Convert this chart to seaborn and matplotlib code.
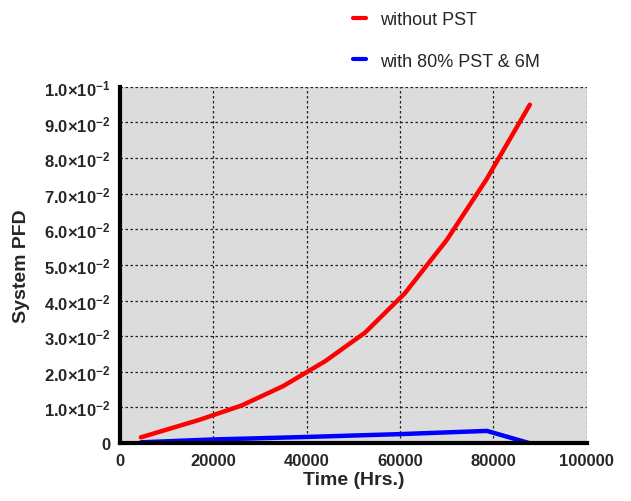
import matplotlib
matplotlib.use("Agg")
import matplotlib.pyplot as plt
import seaborn as sns
import pandas as pd
from matplotlib.ticker import FixedLocator, FixedFormatter

# Data
red_time = [4500, 17000, 26000, 35000, 44000, 52500, 61000, 70000, 78500, 87800]
red_pfd = [0.0016, 0.0065, 0.0105, 0.016, 0.023, 0.031, 0.042, 0.057, 0.074, 0.095]
blue_time = [4500, 20000, 40000, 60000, 78600, 87600]
blue_pfd = [0.0002, 0.0010, 0.0017, 0.0025, 0.0034, 0.0]
series_names = ["without PST", "with 80% PST & 6M"]
y_ticks = [0, 0.01, 0.02, 0.03, 0.04, 0.05, 0.06, 0.07, 0.08, 0.09, 0.10]
y_labels = ["0", "1.0", "2.0", "3.0", "4.0", "5.0", "6.0", "7.0", "8.0", "9.0", "1.0"]
y_exps = [None, -2, -2, -2, -2, -2, -2, -2, -2, -2, -1]
x_ticks = [0, 20000, 40000, 60000, 80000, 100000]

df = pd.concat([
    pd.DataFrame({"Time": red_time, "PFD": red_pfd, "Series": series_names[0]}),
    pd.DataFrame({"Time": blue_time, "PFD": blue_pfd, "Series": series_names[1]}),
])

sns.set_style("white")
plt.rcParams["font.family"] = ["Liberation Sans", "DejaVu Sans"]
plt.rcParams["mathtext.fontset"] = "custom"
plt.rcParams["mathtext.rm"] = "Liberation Sans:bold"
plt.rcParams["mathtext.bf"] = "Liberation Sans:bold"
plt.rcParams["mathtext.it"] = "Liberation Sans:bold"

fig = plt.figure(figsize=(6.31, 5.02), dpi=100)
ax = fig.add_axes([0.190, 0.1155, 0.740, 0.7095])
ax.set_facecolor("#dcdcdc")

sns.lineplot(data=df, x="Time", y="PFD", hue="Series",
             palette={series_names[0]: "#ff0000", series_names[1]: "#0000ff"},
             linewidth=3.2, ax=ax, sort=False, estimator=None)

ax.set_xlim(0, 100000)
ax.set_ylim(0, 0.10)
ax.xaxis.set_major_locator(FixedLocator(x_ticks))
ax.set_xticklabels([str(t) for t in x_ticks])
labels = []
for lab, e in zip(y_labels, y_exps):
    if e is None:
        labels.append(lab)
    else:
        labels.append(r"$%s{\times}10^{%d}$" % (lab, e))
ax.yaxis.set_major_locator(FixedLocator(y_ticks))
ax.yaxis.set_major_formatter(FixedFormatter(labels))

ax.grid(True, color="#222222", linestyle=(0, (2, 2)), linewidth=0.9)
ax.set_axisbelow(True)
for s in ["top", "right"]:
    ax.spines[s].set_visible(False)
for s in ["left", "bottom"]:
    ax.spines[s].set_linewidth(3)
    ax.spines[s].set_color("black")
ax.tick_params(axis="both", direction="out", length=5, width=3, color="black",
               labelsize=12, pad=2)
for t in ax.get_xticklabels() + ax.get_yticklabels():
    t.set_fontweight("bold")

ax.set_xlabel("Time (Hrs.)", fontsize=14, fontweight="bold", labelpad=2)
ax.set_ylabel("System PFD", fontsize=14, fontweight="bold", labelpad=10)

leg = ax.legend(loc="upper left", bbox_to_anchor=(0.534, 1.008), bbox_transform=fig.transFigure,
                frameon=False, fontsize=13, handlelength=0.7, handletextpad=0.8,
                labelspacing=1.35, title=None)
for line in leg.get_lines():
    line.set_linewidth(3)

fig.savefig("out.png", dpi=100, facecolor="white")
